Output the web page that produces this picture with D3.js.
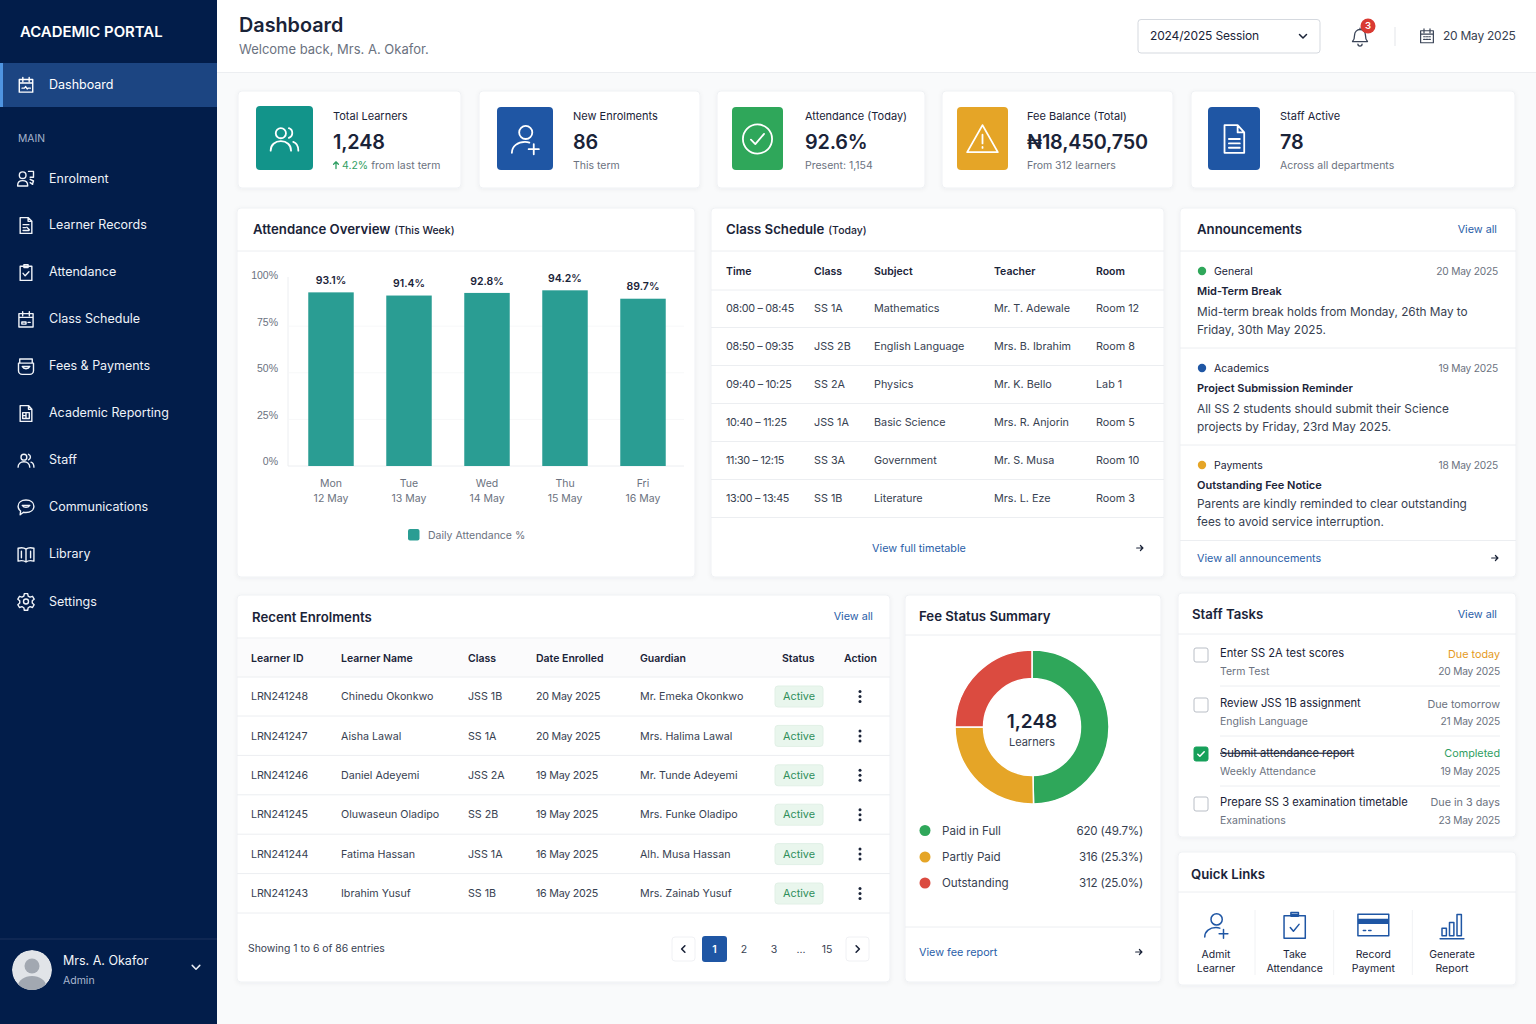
<!DOCTYPE html>
<html>
<head>
<meta charset="utf-8">
<title>Academic Portal Dashboard</title>
<script src="https://cdn.jsdelivr.net/npm/d3@7"></script>
<style>
  html, body { margin: 0; padding: 0; background: #f9fafb; }
  svg { display: block; font-family: Inter, "Noto Sans", sans-serif; }
</style>
</head>
<body>
<div id="page"></div>
<script>
// ---- data ----
const navLabels = ["Enrolment", "Learner Records", "Attendance", "Class Schedule", "Fees & Payments", "Academic Reporting", "Staff", "Communications", "Library", "Settings"];
const navIcons = ["enrol", "records", "attendance", "schedule", "fees", "reporting", "users", "chat", "book", "gear"];

const kpiLabels = ["Total Learners", "New Enrolments", "Attendance (Today)", "Fee Balance (Total)", "Staff Active"];
const kpiValues = ["1,248", "86", "92.6%", "₦18,450,750", "78"];
const kpiNotes = ["from last term", "This term", "Present: 1,154", "From 312 learners", "Across all departments"];
const kpiIcons = ["users", "userPlus", "checkCircle", "alert", "file"];

const days = ["Mon", "Tue", "Wed", "Thu", "Fri"];
const dates = ["12 May", "13 May", "14 May", "15 May", "16 May"];
const attendance = [93.1, 91.4, 92.8, 94.2, 89.7];
const attendanceTicks = [0, 25, 50, 75, 100];

const scheduleHead = ["Time", "Class", "Subject", "Teacher", "Room"];
const scheduleRows = [
  ["08:00 – 08:45", "SS 1A", "Mathematics", "Mr. T. Adewale", "Room 12"],
  ["08:50 – 09:35", "JSS 2B", "English Language", "Mrs. B. Ibrahim", "Room 8"],
  ["09:40 – 10:25", "SS 2A", "Physics", "Mr. K. Bello", "Lab 1"],
  ["10:40 – 11:25", "JSS 1A", "Basic Science", "Mrs. R. Anjorin", "Room 5"],
  ["11:30 – 12:15", "SS 3A", "Government", "Mr. S. Musa", "Room 10"],
  ["13:00 – 13:45", "SS 1B", "Literature", "Mrs. L. Eze", "Room 3"]
];

const newsTags = ["General", "Academics", "Payments"];
const newsDates = ["20 May 2025", "19 May 2025", "18 May 2025"];
const newsTitles = ["Mid-Term Break", "Project Submission Reminder", "Outstanding Fee Notice"];
const newsBodies = [
  ["Mid-term break holds from Monday, 26th May to", "Friday, 30th May 2025."],
  ["All SS 2 students should submit their Science", "projects by Friday, 23rd May 2025."],
  ["Parents are kindly reminded to clear outstanding", "fees to avoid service interruption."]
];

const enrolHead = ["Learner ID", "Learner Name", "Class", "Date Enrolled", "Guardian"];
const enrolRows = [
  ["LRN241248", "Chinedu Okonkwo", "JSS 1B", "20 May 2025", "Mr. Emeka Okonkwo"],
  ["LRN241247", "Aisha Lawal", "SS 1A", "20 May 2025", "Mrs. Halima Lawal"],
  ["LRN241246", "Daniel Adeyemi", "JSS 2A", "19 May 2025", "Mr. Tunde Adeyemi"],
  ["LRN241245", "Oluwaseun Oladipo", "SS 2B", "19 May 2025", "Mrs. Funke Oladipo"],
  ["LRN241244", "Fatima Hassan", "JSS 1A", "16 May 2025", "Alh. Musa Hassan"],
  ["LRN241243", "Ibrahim Yusuf", "SS 1B", "16 May 2025", "Mrs. Zainab Yusuf"]
];
const pageLabels = ["1", "2", "3", "...", "15"];

const feeLabels = ["Paid in Full", "Partly Paid", "Outstanding"];
const feeCounts = [620, 316, 312];
const feeShares = ["49.7%", "25.3%", "25.0%"];

const taskTitles = ["Enter SS 2A test scores", "Review JSS 1B assignment", "Submit attendance report", "Prepare SS 3 examination timetable"];
const taskSubjects = ["Term Test", "English Language", "Weekly Attendance", "Examinations"];
const taskDue = ["Due today", "Due tomorrow", "Completed", "Due in 3 days"];
const taskDates = ["20 May 2025", "21 May 2025", "19 May 2025", "23 May 2025"];

const quickLabels = [["Admit", "Learner"], ["Take", "Attendance"], ["Record", "Payment"], ["Generate", "Report"]];
const quickIcons = ["userPlus", "clipboard", "card", "bars"];

// ---- colours ----
const navy = "#021d4a", blue = "#1f56a4", teal = "#2a9d93", green = "#2fa75a", amber = "#e5a527", red = "#db4b40";
const ink = "#1a2338", body = "#374151", muted = "#6b7280", link = "#2a5ea8", line = "#eceef1";

const icons = {
  users: "M6 8a3.5 3.5 0 1 0 7 0a3.5 3.5 0 1 0 -7 0M2.5 20c0-4 3-6.5 7-6.5s7 2.5 7 6.5M15 4.6a3.5 3.5 0 0 1 0 6.6M18 14c2.2.8 3.5 3 3.5 6",
  userPlus: "M8 7.5a4.5 4.5 0 1 0 9 0a4.5 4.5 0 1 0 -9 0M3 21.5c0-4.5 4-7.5 9-7.5c1.2 0 2.2.2 3 .5M18 15.5v7M14.5 19h7",
  checkCircle: "M2 12a10 10 0 1 0 20 0a10 10 0 1 0 -20 0M7.5 12.5l3 3 6-7",
  alert: "M12 2.5L22.5 21H1.5ZM12 9v6M12 17.5v.6",
  file: "M5.5 2.5h9l4.5 5v14h-13.5ZM14.5 2.5v5h4.5M8.5 12h7.5M8.5 15h7.5M8.5 18h7.5",
  calendar: "M3.5 5h17v16h-17ZM3.5 9.5h17M8 2.5v5M16 2.5v5M7.5 13h2M11 13h2M14.5 13h2M7.5 16.5h2M11 16.5h2M14.5 16.5h2",
  dashboard: "M3.5 5h17v16h-17ZM3.5 9.5h17M8 2.5v5M16 2.5v5M7 16h3l1.5-2 2 3 1-1h3",
  enrol: "M4 8a4 4 0 1 0 8 0a4 4 0 1 0 -8 0M2 21v-1c0-3.5 2.5-5.5 6-5.5s6 2 6 5.5v1ZM15 3.5h6v7h-4M17 13l4 2-1 3M17 17l3 2",
  records: "M5 2.5h9.5l4.5 4.5v14.5h-14ZM14.5 2.5v4.5h4.5M8.5 11h7M8.5 14.5h3M13 14l3 3M8.5 18h7",
  attendance: "M5 4.5h14v17h-14ZM9.5 2.5h5v3.5h-5ZM8.5 13l2.5 3 4.5-5",
  schedule: "M3.5 5h17v16h-17ZM3.5 9.5h17M8 2.5v5M16 2.5v5M7 15h5v2.5h-5ZM14.5 15.5h2.5",
  fees: "M4.5 3h15v5h-15ZM3 8h18v9c0 2.5-2 4.5-4.5 4.5h-9C5 21.5 3 19.5 3 17ZM7.5 12c1.5 3.5 7.5 3.5 9 0Z",
  reporting: "M5 2.5h10l4 4.5v14.5h-14ZM15 2.5v4.5h4M8 11h8v7h-8ZM12 11v7M8 14.5h4",
  chat: "M12 3c5.5 0 9.5 3 9.5 7.5s-4 7.5-9.5 7.5c-1 0-2 0-3-.3l-4 3 .5-4.5c-2-1.5-3-3.5-3-5.7C2.500 6 6.500 3 12 3ZM7.500 9.500c2 3 7 3 9 0Z",
  book: "M12 5.500C10 4 6 3.500 2.500 4.500v15.500c3.500-1 7.500-.5 9.500 1c2-1.500 6-2 9.500-1v-15.500c-3.500-1-7.500-.5-9.500 1ZM12 5.500v15.500M6.500 8v8M17.500 8v8",
  gear: "M9 12a3 3 0 1 0 6 0a3 3 0 1 0 -6 0M10 2.500h4l.6 3 2.300 1.300 2.900-1 2 3.400-2.300 2 0 2.600 2.300 2-2 3.400-2.900-1-2.300 1.300-.6 3h-4l-.6-3-2.300-1.300-2.900 1-2-3.400 2.300-2v-2.600l-2.300-2 2-3.400 2.900 1 2.300-1.300Z",
  bell: "M12 3a6.500 6.500 0 0 0-6.500 6.500c0 5-1 6.500-2.500 8h18c-1.500-1.500-2.500-3-2.500-8A6.500 6.500 0 0 0 12 3ZM9.500 20.500a2.500 2.500 0 0 0 5 0M12 1.500v1.500",
  clipboard: "M3.500 4.500h17v18h-17ZM9 2h6v3h-6ZM9 3.500h6M8.500 14l2.500 3 4.500-5.500",
  card: "M2 5h20v14h-20ZM2 8.500h20M2 9.300h20M2 10.100h20M2 10.900h20M5.500 15.500h1.500M9 15.500h1.500",
  bars: "M4 14.500h3.500v6h-3.500ZM10 10h3.500v10.500h-3.500ZM16 3.500h3.500v17h-3.500ZM2.500 23h19",
  arrow: "M4 12h15M13 6l6 6-6 6",
  arrowUp: "M12 21V4M6 10l6-6 6 6",
  chevronDown: "M5 9l7 7 7-7",
  chevronLeft: "M15 5l-7 7 7 7",
  chevronRight: "M9 5l7 7-7 7",
  check: "M5 12.500l4.500 4.500 9.500-10"
};

const svg = d3.select("#page").append("svg").attr("width", 1536).attr("height", 1024);

const shadow = svg.append("defs").append("filter").attr("id", "soft")
  .attr("x", "-5%").attr("y", "-5%").attr("width", "110%").attr("height", "115%");
shadow.append("feDropShadow").attr("dx", 0).attr("dy", 1).attr("stdDeviation", 2)
  .attr("flood-color", "#1a2338").attr("flood-opacity", 0.05);

// text helper, y is the vertical middle of the text
function label(parent, x, y, str, o = {}) {
  return parent.append("text")
    .attr("x", x).attr("y", y).attr("dy", "0.35em")
    .attr("text-anchor", o.anchor || "start")
    .attr("font-size", o.size || 11)
    .attr("font-weight", o.weight || 400)
    .attr("letter-spacing", o.spacing || 0)
    .attr("fill", o.fill || body)
    .text(str);
}

function icon(parent, name, cx, cy, size, color, width = 1.6) {
  const k = size / 24;
  return parent.append("path")
    .attr("transform", `translate(${cx - size / 2},${cy - size / 2}) scale(${k})`)
    .attr("d", icons[name])
    .attr("fill", "none")
    .attr("stroke", color)
    .attr("stroke-width", width / k)
    .attr("stroke-linecap", "round")
    .attr("stroke-linejoin", "round");
}

function card(x0, y0, x1, y1) {
  return svg.append("rect")
    .attr("x", x0).attr("y", y0).attr("width", x1 - x0).attr("height", y1 - y0)
    .attr("rx", 4).attr("fill", "#fff").attr("stroke", "#eff1f4").attr("filter", "url(#soft)");
}

function rule(x0, x1, y0, y1 = y0, color = line) {
  svg.append("line").attr("x1", x0).attr("x2", x1).attr("y1", y0).attr("y2", y1).attr("stroke", color);
}

function cardTitle(x, y, title, small) {
  const t = label(svg, x, y, title, { size: 13.2, weight: 600, fill: ink });
  if (small) t.append("tspan").attr("dx", 4).attr("font-size", 10.5).attr("font-weight", 500).text(small);
}

// ---- sidebar ----
svg.append("rect").attr("width", 217).attr("height", 1024).attr("fill", navy);
svg.append("rect").attr("y", 63).attr("width", 217).attr("height", 44).attr("fill", "#1c4582");
svg.append("rect").attr("y", 63).attr("width", 3).attr("height", 44).attr("fill", "#4f94e0");
label(svg, 20, 32, "ACADEMIC PORTAL", { size: 14.9, weight: 600, fill: "#fff" });
icon(svg, "dashboard", 26, 85, 19, "#fff", 1.4);
label(svg, 49, 85, "Dashboard", { size: 12.5, fill: "#fff" });
label(svg, 18, 138, "MAIN", { size: 10.3, fill: "#a5b4cc" });

const navY = d3.scalePoint().domain(navLabels).range([179, 602]);
navLabels.forEach((d, i) => {
  icon(svg, navIcons[i], 26, navY(d) - 0.5, 20, "#f1f4f9", 1.4);
  label(svg, 49, navY(d) - (i > 0 && i < 9 ? 1 : 0), d, { size: 12.5, fill: "#eef2f8" });
});

rule(0, 217, 939, 939, "#1c335c");
svg.append("clipPath").attr("id", "avatarClip").append("circle").attr("cx", 32).attr("cy", 970).attr("r", 20);
const avatar = svg.append("g").attr("clip-path", "url(#avatarClip)");
avatar.append("circle").attr("cx", 32).attr("cy", 970).attr("r", 20).attr("fill", "#e1e4e8");
avatar.append("circle").attr("cx", 32).attr("cy", 966).attr("r", 7.5).attr("fill", "#a2a8b1");
avatar.append("ellipse").attr("cx", 32).attr("cy", 986).attr("rx", 14).attr("ry", 10).attr("fill", "#a2a8b1");
label(svg, 63, 961, "Mrs. A. Okafor", { size: 12.5, fill: "#f3f5f9" });
label(svg, 63, 980, "Admin", { size: 10.5, fill: "#a9b7cf" });
icon(svg, "chevronDown", 196, 967, 13, "#e8edf5", 1.5);

// ---- top bar ----
svg.append("rect").attr("x", 217).attr("width", 1319).attr("height", 72).attr("fill", "#fff");
rule(217, 1536, 72.5);
label(svg, 239, 25, "Dashboard", { size: 19.8, weight: 600, fill: ink });
label(svg, 239, 49, "Welcome back, Mrs. A. Okafor.", { size: 13, fill: muted });
svg.append("rect").attr("x", 1138).attr("y", 19.5).attr("width", 182).attr("height", 33.5).attr("rx", 3)
  .attr("fill", "#fff").attr("stroke", "#d5d9df");
label(svg, 1150, 36, "2024/2025 Session", { size: 12, spacing: -0.15, fill: ink });
icon(svg, "chevronDown", 1303, 36, 12, ink, 1.5);
icon(svg, "bell", 1360, 37, 20, "#3a4457", 1.3);
svg.append("circle").attr("cx", 1368).attr("cy", 26).attr("r", 7.5).attr("fill", "#d93a32");
label(svg, 1368, 26, "3", { size: 9.5, anchor: "middle", fill: "#fff", weight: 600 });
rule(1395, 1395, 27, 46, "#e3e5e9");
icon(svg, "calendar", 1427, 36, 18, "#3a4457", 1.2);
label(svg, 1443, 36, "20 May 2025", { size: 12, spacing: -0.25, fill: body });

// ---- KPI cards ----
const kpiCards = [[238, 461], [479, 700], [717, 925], [942, 1173], [1191, 1515]];
const kpiTiles = [[256, 313, 106], [497, 553, 107], [732, 783, 107], [957, 1008, 107], [1208, 1260, 107]];
const kpiTextX = [333, 573, 805, 1027, 1280];
const kpiColors = ["#12948a", blue, green, amber, blue];
kpiLabels.forEach((d, i) => {
  card(kpiCards[i][0], 91, kpiCards[i][1], 188);
  const [x0, x1, y0] = kpiTiles[i];
  svg.append("rect").attr("x", x0).attr("y", y0).attr("width", x1 - x0).attr("height", 170 - y0)
    .attr("rx", 4).attr("fill", kpiColors[i]);
  icon(svg, kpiIcons[i], (x0 + x1) / 2, 139, 35, "#fff", 1.8);
  label(svg, kpiTextX[i], 116, d, { size: 11, fill: ink });
  label(svg, kpiTextX[i], 142, kpiValues[i], { size: 19.8, weight: 600, spacing: -0.15, fill: ink });
  if (i === 0) {
    icon(svg, "arrowUp", kpiTextX[i] + 3, 165, 9.5, "#2f9e62", 1.3);
    const note = label(svg, kpiTextX[i] + 9, 165, "4.2%", { size: 10.5, fill: "#2f9e62" });
    note.append("tspan").attr("dx", 3).attr("fill", muted).text(kpiNotes[i]);
  } else {
    label(svg, kpiTextX[i], 165, kpiNotes[i], { size: 10.5, fill: muted });
  }
});

// ---- attendance bars ----
card(237, 208, 695, 577);
cardTitle(253, 229, "Attendance Overview", "(This Week)");
rule(237, 695, 251);

const x = d3.scaleBand().domain(days).range([292, 682]).paddingInner(0.417).paddingOuter(0.2085);
const y = d3.scaleLinear().domain([0, 100]).range([466, 279.5]);

const yAxis = svg.append("g").attr("transform", "translate(288,0)")
  .call(d3.axisLeft(y).tickValues(attendanceTicks).tickFormat(d => d + "%").tickSize(0).tickPadding(10));
yAxis.select(".domain").attr("stroke", line).attr("d", "M0,277V466");
yAxis.selectAll("text").attr("font-family", null).attr("font-size", 10.5).attr("fill", muted).attr("dy", "-0.1em");
svg.selectAll(".grid").data(attendanceTicks.slice(1, 4)).join("line").attr("class", "grid")
  .attr("x1", 289).attr("x2", 684).attr("y1", d => y(d)).attr("y2", d => y(d)).attr("stroke", "#f7f8f9");
rule(288, 684, 466);

svg.selectAll(".bar").data(attendance).join("rect").attr("class", "bar")
  .attr("x", (d, i) => x(days[i])).attr("width", x.bandwidth())
  .attr("y", d => y(d)).attr("height", d => y(0) - y(d)).attr("fill", teal);
attendance.forEach((d, i) => {
  label(svg, x(days[i]) + x.bandwidth() / 2, y(d) - 12, d.toFixed(1) + "%", { size: 10.5, weight: 600, anchor: "middle", fill: ink });
  label(svg, x(days[i]) + x.bandwidth() / 2, 483, days[i], { size: 10.5, anchor: "middle", fill: muted });
  label(svg, x(days[i]) + x.bandwidth() / 2, 498, dates[i], { size: 10.5, anchor: "middle", fill: muted });
});
svg.append("rect").attr("x", 408).attr("y", 529).attr("width", 11.5).attr("height", 11.5).attr("rx", 2).attr("fill", teal);
label(svg, 428, 535, "Daily Attendance %", { size: 10.5, fill: muted });

// ---- class schedule ----
card(711, 208, 1164, 577);
cardTitle(726, 229, "Class Schedule", "(Today)");
rule(711, 1164, 251);
const schedX = [726, 814, 874, 994, 1096];
scheduleHead.forEach((d, i) => label(svg, schedX[i], 271, d, { size: 10.5, weight: 600, fill: ink }));
rule(711, 1164, 290);
const schedY = d3.scalePoint().domain(d3.range(scheduleRows.length)).range([308, 498]);
scheduleRows.forEach((row, r) => {
  row.forEach((d, i) => label(svg, schedX[i], schedY(r), d, { size: 10.8, spacing: i === 0 ? -0.3 : 0, fill: body }));
  rule(711, 1164, schedY(r) + 19.5);
});
label(svg, 919, 548, "View full timetable", { size: 10.8, anchor: "middle", fill: link });
icon(svg, "arrow", 1140, 548, 10, ink, 1.2);

// ---- announcements ----
card(1180, 208, 1516, 577);
cardTitle(1197, 229, "Announcements");
label(svg, 1497, 229, "View all", { size: 10.8, anchor: "end", fill: link });
rule(1180, 1516, 251);
const newsColors = [green, blue, amber];
const newsTop = [271, 368, 465];
newsTags.forEach((d, i) => {
  const t = newsTop[i];
  const nudge = i === 2 ? -1.5 : 0;
  svg.append("circle").attr("cx", 1202).attr("cy", t).attr("r", 4.2).attr("fill", newsColors[i]);
  label(svg, 1214, t, d, { size: 10.5, fill: ink });
  label(svg, 1498, t, newsDates[i], { size: 10.2, spacing: -0.2, anchor: "end", fill: muted });
  label(svg, 1197, t + 20.5 + nudge / 2, newsTitles[i], { size: 11, weight: 600, fill: ink });
  newsBodies[i].forEach((b, j) => label(svg, 1197, t + 40.5 + nudge + j * 18, b, { size: 11.8, fill: body }));
  rule(1180, 1516, t + 77 + nudge);
});
label(svg, 1197, 558, "View all announcements", { size: 10.8, fill: link });
icon(svg, "arrow", 1495, 558, 10, ink, 1.2);

// ---- recent enrolments ----
card(237, 595, 890, 982);
cardTitle(252, 617, "Recent Enrolments");
label(svg, 873, 616, "View all", { size: 10.8, anchor: "end", fill: link });
rule(237, 890, 638);
svg.append("rect").attr("x", 238).attr("y", 639).attr("width", 651).attr("height", 38).attr("fill", "#fbfbfc");
const enrolX = [251, 341, 468, 536, 640];
enrolHead.forEach((d, i) => label(svg, enrolX[i], 658, d, { size: 10.5, weight: 600, fill: ink }));
label(svg, 782, 658, "Status", { size: 10.5, weight: 600, fill: ink });
label(svg, 844, 658, "Action", { size: 10.5, weight: 600, fill: ink });
rule(237, 890, 677);
const enrolY = d3.scalePoint().domain(d3.range(enrolRows.length)).range([696.5, 893.5]);
enrolRows.forEach((row, r) => {
  const cy = enrolY(r);
  row.forEach((d, i) => label(svg, enrolX[i], cy, d, { size: 10.7, spacing: i === 0 ? -0.15 : i === 3 ? -0.25 : 0, fill: body }));
  svg.append("rect").attr("x", 775).attr("y", cy - 10.5).attr("width", 48).attr("height", 21).attr("rx", 3)
    .attr("fill", "#e9f6ed").attr("stroke", "#e1f0e6");
  label(svg, 799, cy, "Active", { size: 10.8, anchor: "middle", fill: "#2f8f5b" });
  [-5, 0, 5].forEach(k => svg.append("circle").attr("cx", 860).attr("cy", cy + k).attr("r", 1.5).attr("fill", ink));
  rule(237, 890, cy + 19.5);
});
label(svg, 248, 948.5, "Showing 1 to 6 of 86 entries", { size: 10.4, fill: body });

const pagerBox = [[672, 695], [846, 869]];
pagerBox.forEach(([a, b]) => svg.append("rect").attr("x", a).attr("y", 937).attr("width", b - a).attr("height", 24)
  .attr("rx", 3).attr("fill", "#fff").attr("stroke", "#f0f1f4"));
icon(svg, "chevronLeft", 683.5, 949, 11, ink, 1.6);
icon(svg, "chevronRight", 857.5, 949, 11, ink, 1.6);
svg.append("rect").attr("x", 702).attr("y", 936).attr("width", 25).attr("height", 26).attr("rx", 3).attr("fill", blue);
const pageX = [714.5, 744, 774, 801, 827];
pageLabels.forEach((d, i) => label(svg, pageX[i], 949, d, { size: 10.5, anchor: "middle", weight: i ? 400 : 600, fill: i ? body : "#fff" }));

// ---- fee status donut ----
card(905, 595, 1161, 982);
cardTitle(919, 616, "Fee Status Summary");
rule(905, 1161, 635);
const pie = d3.pie().sort(null).value(d => d);
const arc = d3.arc().innerRadius(48.5).outerRadius(77);
const feeColors = [green, amber, red];
svg.append("g").attr("transform", "translate(1032,727)")
  .selectAll("path").data(pie(feeCounts)).join("path")
  .attr("d", arc).attr("fill", (d, i) => feeColors[i]).attr("stroke", "#fff").attr("stroke-width", 1.5);
label(svg, 1032, 721, d3.format(",")(d3.sum(feeCounts)), { size: 19, weight: 600, anchor: "middle", fill: ink });
label(svg, 1032, 742, "Learners", { size: 11, anchor: "middle", fill: body });
const feeY = [830.5, 857, 883];
feeLabels.forEach((d, i) => {
  svg.append("circle").attr("cx", 925).attr("cy", feeY[i]).attr("r", 5.5).attr("fill", feeColors[i]);
  label(svg, 942, feeY[i], d, { size: 11.6, fill: body });
  label(svg, 1143, feeY[i], `${feeCounts[i]} (${feeShares[i]})`, { size: 11.6, spacing: -0.2, anchor: "end", fill: body });
});
rule(905, 1161, 927);
label(svg, 919, 952, "View fee report", { size: 10.8, fill: link });
icon(svg, "arrow", 1139, 952, 10, ink, 1.2);

// ---- staff tasks ----
card(1178, 593, 1516, 837);
cardTitle(1192, 614, "Staff Tasks");
label(svg, 1497, 614, "View all", { size: 10.8, anchor: "end", fill: link });
rule(1178, 1516, 634);
const taskTop = [653, 703, 753, 802];
const dueColors = ["#e59a1c", muted, "#2f9e62", muted];
taskTitles.forEach((d, i) => {
  const t = taskTop[i];
  const boxY = t + (i === 2 ? 1 : 2);
  svg.append("rect").attr("x", 1194).attr("y", boxY - 7).attr("width", 14).attr("height", 14).attr("rx", 2)
    .attr("fill", i === 2 ? "#16a05a" : "#fff").attr("stroke", i === 2 ? "#16a05a" : "#b9bec6");
  if (i === 2) icon(svg, "check", 1201, boxY, 11, "#fff", 1.5);
  const title = label(svg, 1220, t, d, { size: 11.2, fill: ink });
  if (i === 2) title.attr("text-decoration", "line-through");
  label(svg, 1220, t + 18.500, taskSubjects[i], { size: 10.5, fill: muted });
  label(svg, 1500, t + (i < 2 ? 1.5 : 0), taskDue[i], { size: 10.8, anchor: "end", fill: dueColors[i] });
  label(svg, 1500, t + 18.500, taskDates[i], { size: 10.2, spacing: -0.2, anchor: "end", fill: muted });
  if (i < 3) rule(1220, 1500, t + 33);
});

// ---- quick links ----
card(1178, 852, 1516, 985);
cardTitle(1191, 874, "Quick Links");
rule(1178, 1516, 892);
const quickX = d3.scalePoint().domain(d3.range(4)).range([1216, 1452]);
quickLabels.forEach((d, i) => {
  icon(svg, quickIcons[i], quickX(i), 925, i === 2 ? 37 : 30, blue, 1.5);
  label(svg, quickX(i), 954.5, d[0], { size: 10.5, anchor: "middle", fill: ink });
  label(svg, quickX(i), 968, d[1], { size: 10.5, anchor: "middle", fill: ink });
  if (i < 3) rule(quickX(i) + 39, quickX(i) + 39, 910, 975, "#f1f2f4");
});
</script>
</body>
</html>
